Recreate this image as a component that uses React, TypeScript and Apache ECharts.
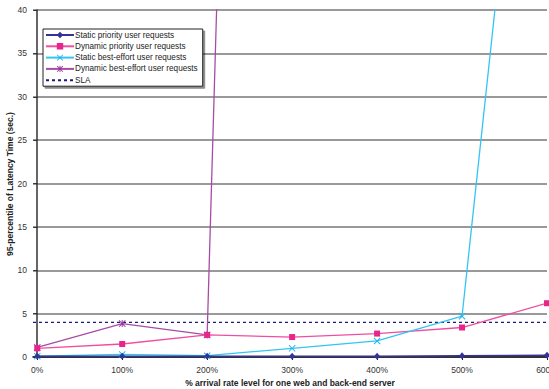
import React, { useEffect, useRef } from "react";
import * as echarts from "echarts";

const xValues = [0, 100, 200, 300, 400, 500, 600];
const tickValues = [0, 100, 200, 300, 400, 500, 600];
const staticPriority = [0.1, 0.1, 0.1, 0.1, 0.1, 0.15, 0.2];
const dynamicPriority = [1.0, 1.5, 2.55, 2.3, 2.7, 3.4, 6.2];
const staticBestEffort = [0.1, 0.3, 0.15, 1.0, 1.85, 4.7, 96];
const dynamicBestEffort = [1.1, 3.85, 2.55, 340];
const slaValue = 4;
const yTitle = "95-percentile of Latency Time (sec.)";
const xTitle = "% arrival rate level for one web and back-end server";

const seriesNames = [
  "Static priority user requests",
  "Dynamic priority user requests",
  "Static best-effort user requests",
  "Dynamic best-effort user requests",
  "SLA",
];

const X_SYMBOL = "path://M0,1L1,0L5,4L9,0L10,1L6,5L10,9L9,10L5,6L1,10L0,9L4,5Z";
const STAR_SYMBOL =
  "path://M0,1L1,0L5,4L9,0L10,1L6,5L10,9L9,10L5,6L1,10L0,9L4,5Z M4.3,0H5.7V10H4.3Z";

const pairs = (ys: number[]) => ys.map((y, i) => [xValues[i], y]);

export default function App() {
  const ref = useRef<HTMLDivElement>(null);
  useEffect(() => {
    if (!ref.current) return;
    const chart = echarts.init(ref.current, null, { renderer: "svg" });
    const font = "Liberation Sans, Arial, sans-serif";
    chart.setOption({
      animation: false,
      textStyle: { fontFamily: font },
      grid: { left: 33, right: 2, top: 10, bottom: 32, outerBoundsMode: "none", containLabel: false },
      graphic: [
        {
          type: "text",
          x: 10,
          y: 184,
          rotation: Math.PI / 2,
          style: {
            text: yTitle,
            fontSize: 8.5,
            fontWeight: "bold",
            fill: "#222",
            fontFamily: font,
            align: "center",
            verticalAlign: "middle",
          },
        },
      ],
      legend: {
        left: 43,
        top: 29,
        orient: "vertical",
        data: [
          seriesNames[0],
          seriesNames[1],
          seriesNames[2],
          seriesNames[3],
          { name: seriesNames[4], itemStyle: { opacity: 0 } },
        ],
        backgroundColor: "#fff",
        borderColor: "#222",
        borderWidth: 1,
        borderRadius: 0,
        shadowColor: "rgba(0,0,0,0.45)",
        shadowOffsetX: 2,
        shadowOffsetY: 2,
        shadowBlur: 0,
        padding: [2, 5, 2, 2],
        itemWidth: 28,
        itemHeight: 8,
        itemGap: 3.3,
        textStyle: { fontSize: 8.2, color: "#222", fontFamily: font, padding: [0, 0, 0, -4] },
      },
      xAxis: {
        type: "value",
        min: -5,
        max: 600,
        name: xTitle,
        nameLocation: "middle",
        nameGap: 21,
        nameTextStyle: { fontSize: 8.5, fontWeight: "bold", color: "#222", fontFamily: font },
        axisLine: { show: true, lineStyle: { color: "#111", width: 1.5 } },
        axisTick: { show: true, length: 3, lineStyle: { color: "#111" }, customValues: tickValues },
        axisLabel: {
          fontSize: 8.5,
          color: "#333",
          margin: 8,
          customValues: tickValues,
          formatter: (v: number) => v + "%",
        },
        splitLine: { show: false },
      },
      yAxis: {
        type: "value",
        min: 0,
        max: 40,
        interval: 5,
        axisLine: { show: true, lineStyle: { color: "#333", width: 1.5 } },
        axisTick: { show: true, length: 4, lineStyle: { color: "#333" } },
        axisLabel: { fontSize: 8.5, color: "#333", margin: 6 },
        splitLine: { show: true, lineStyle: { color: "#777", width: 1.5 } },
      },
      series: [
        {
          name: seriesNames[0],
          type: "line",
          data: pairs(staticPriority),
          symbol: "diamond",
          symbolSize: [6, 7],
          itemStyle: { color: "#333399" },
          lineStyle: { color: "#333399", width: 1.5 },
          z: 5,
        },
        {
          name: seriesNames[1],
          type: "line",
          data: pairs(dynamicPriority),
          symbol: "rect",
          symbolSize: 6,
          itemStyle: { color: "#e8258a" },
          lineStyle: { color: "#f04f9f", width: 1.3 },
          z: 3,
        },
        {
          name: seriesNames[2],
          type: "line",
          data: pairs(staticBestEffort),
          symbol: X_SYMBOL,
          symbolSize: 7,
          itemStyle: { color: "#22b4ee" },
          lineStyle: { color: "#33c4f4", width: 1.3 },
          z: 4,
        },
        {
          name: seriesNames[3],
          type: "line",
          data: pairs(dynamicBestEffort),
          symbol: STAR_SYMBOL,
          symbolSize: 7,
          itemStyle: { color: "#993399" },
          lineStyle: { color: "#a64ca6", width: 1.3 },
          z: 2,
        },
        {
          name: seriesNames[4],
          type: "line",
          data: [
            [-5, slaValue],
            [600, slaValue],
          ],
          symbol: "none",
          itemStyle: { color: "#1a1a80" },
          lineStyle: { color: "#1a1a80", width: 1.3, type: [3, 3] },
          z: 1,
        },
      ],
    });
    return () => chart.dispose();
  }, []);
  return <div ref={ref} style={{ width: 549, height: 389, position: "absolute", left: 0, top: 0 }} />;
}
